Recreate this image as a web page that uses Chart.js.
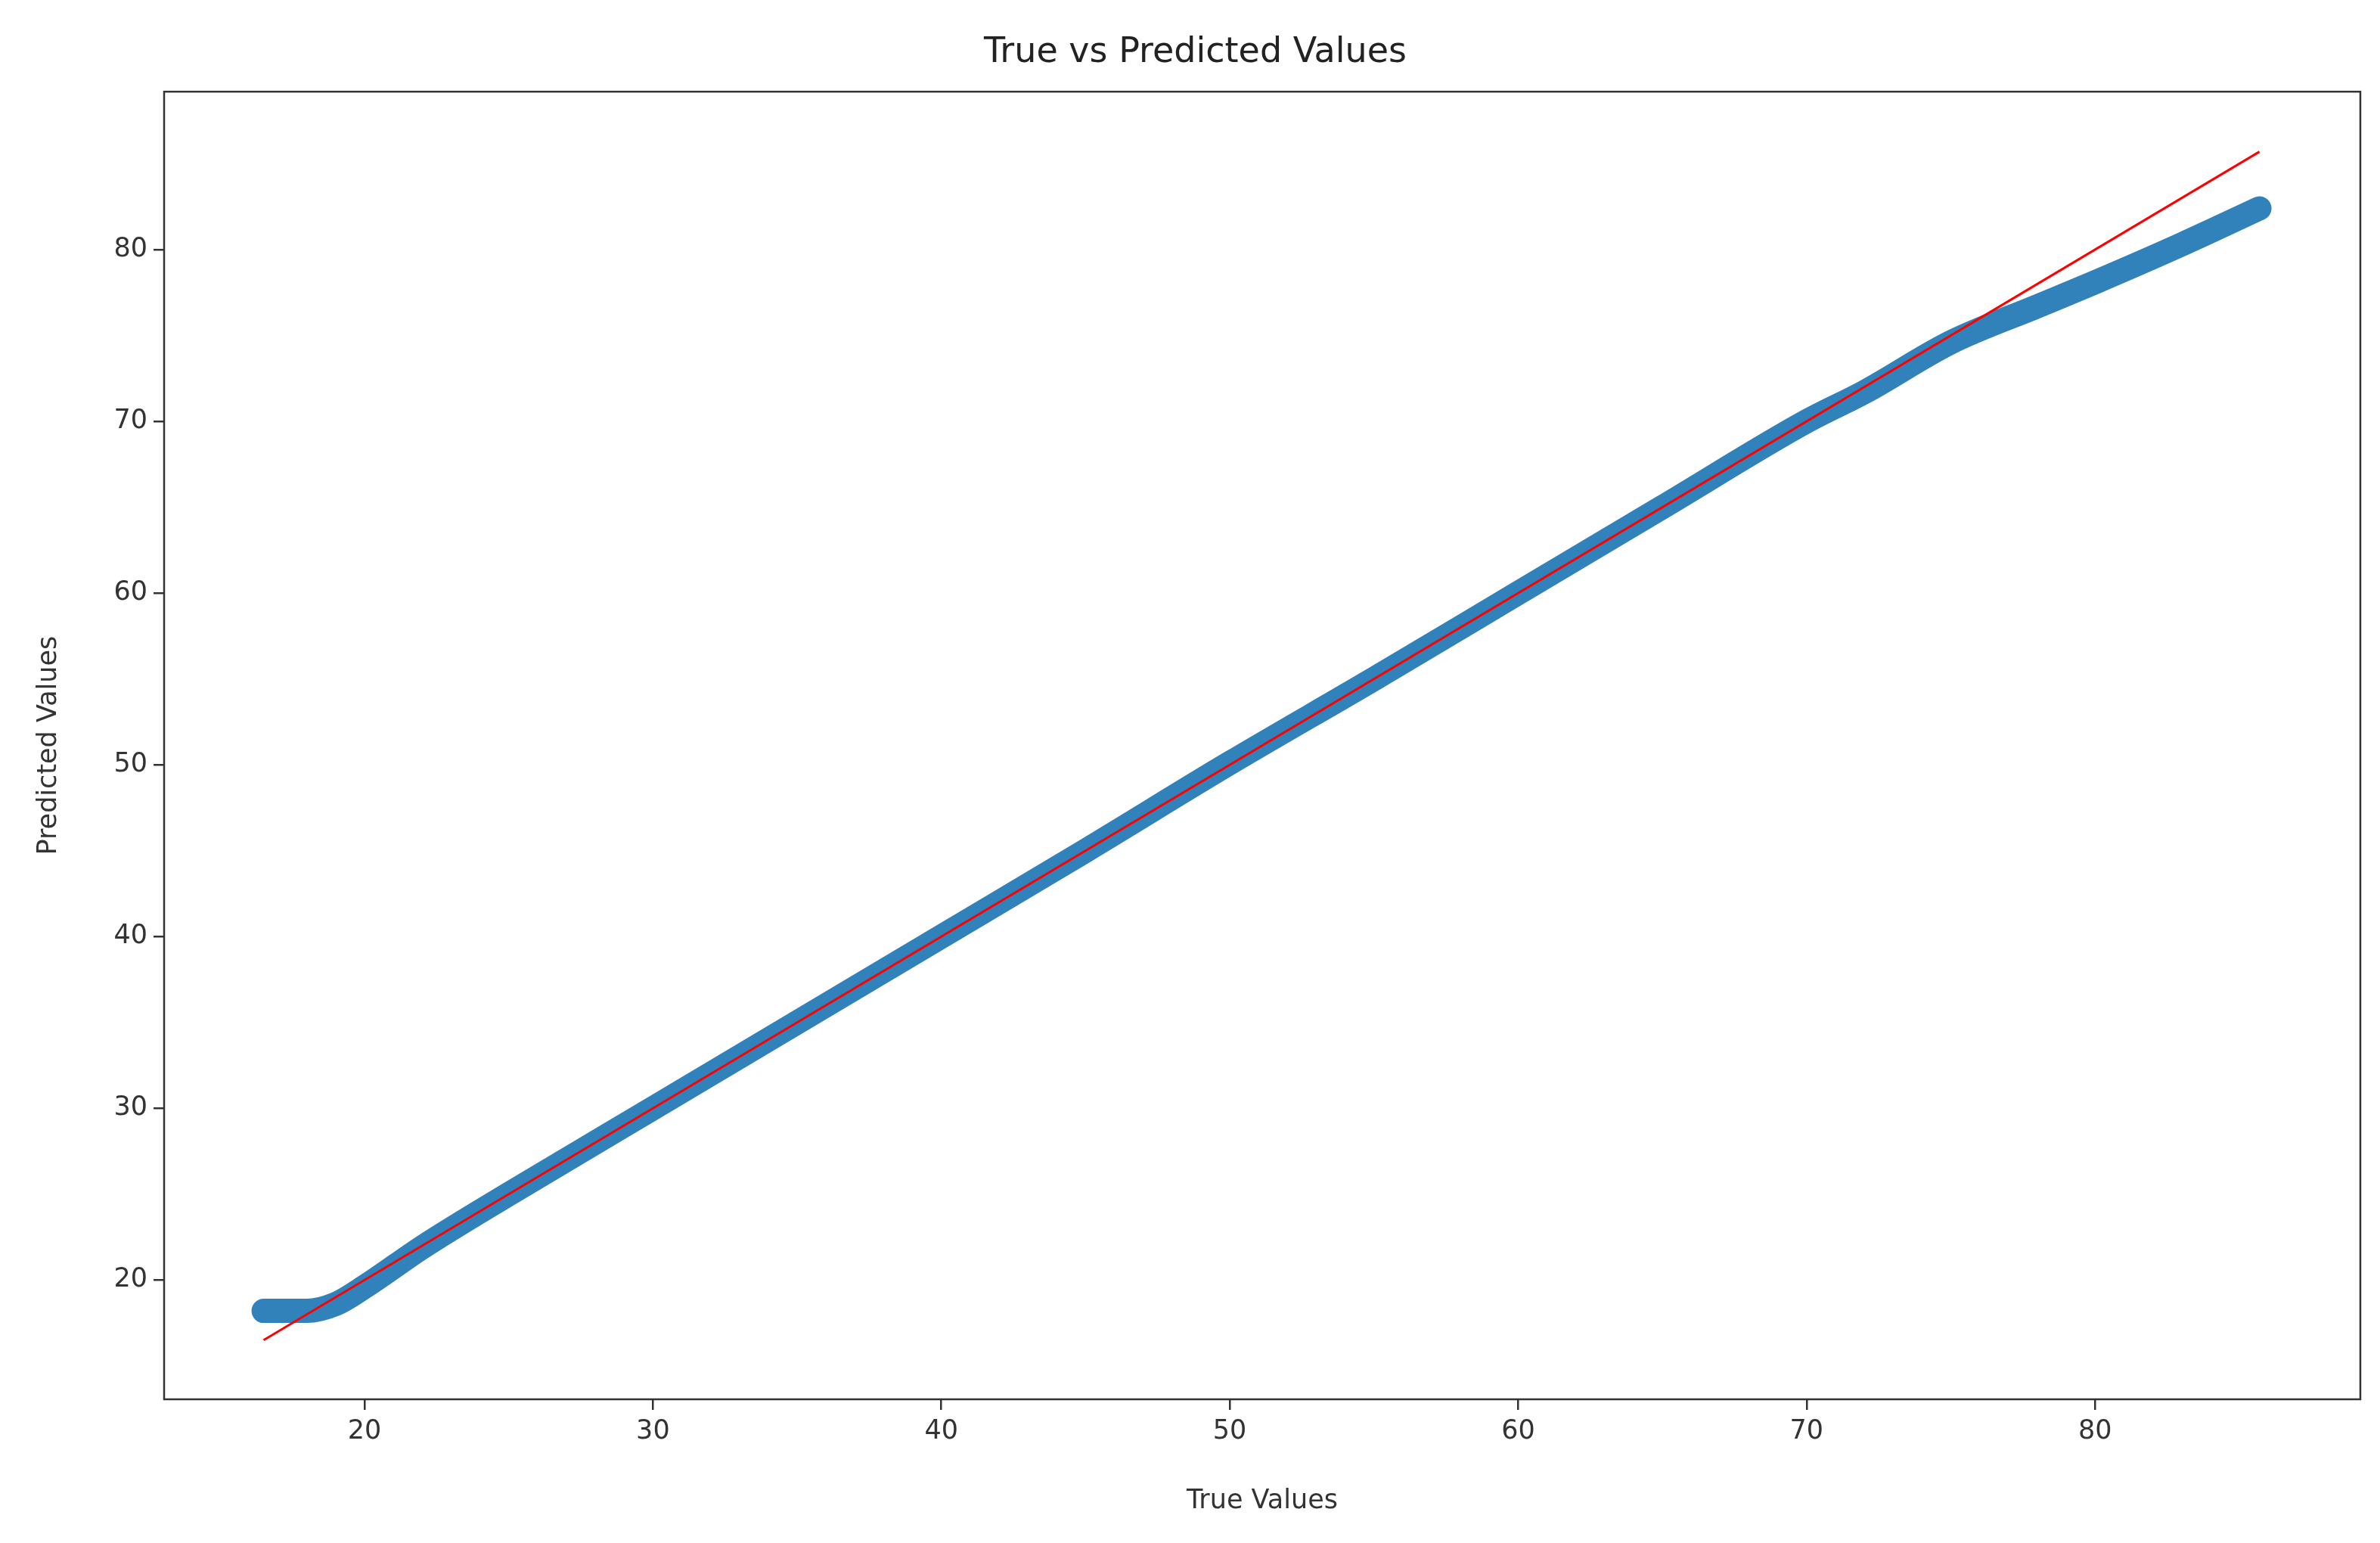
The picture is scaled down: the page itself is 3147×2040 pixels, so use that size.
<!DOCTYPE html>
<html><head><meta charset="utf-8">
<script src="https://cdn.jsdelivr.net/npm/chart.js@4"></script>
<style>html,body{margin:0;padding:0;background:#fff}#w{width:3147px;height:2040px}</style>
</head><body><div id="w"><canvas id="c"></canvas></div>
<script>
const trueVals = [16.5,17,18,19,20,22,25,30,35,40,45,50,55,60,65,70,72,75,78,80,83,85.7];
const predVals = [18.2,18.2,18.2,18.6,19.6,21.9,25,30,35,40,45,50.1,55,60,65,70,71.7,74.6,76.7,78.1,80.3,82.4];
const refLine = [16.5,85.7];
const tickVals = [20,30,40,50,60,70,80];
const font = "DejaVu Sans";
const band = trueVals.map((x,i)=>({x:x,y:predVals[i]}));
const diag = refLine.map(v=>({x:v,y:v}));
const frame = {id:'frame',afterDraw(ch){const a=ch.chartArea,c=ch.ctx;c.save();c.strokeStyle='#333';c.lineWidth=2.5;c.strokeRect(a.left,a.top,a.right-a.left,a.bottom-a.top);c.restore();}};
const axis = (title,isX)=>({
  type:'linear',min:13.05,max:89.2,
  afterBuildTicks:s=>{s.ticks=tickVals.map(v=>({value:v}));},
  afterFit:s=>{ if(isX) s.height=160; else s.width=177; },
  grid:{drawOnChartArea:false,tickLength:14,color:'#333',lineWidth:2.5},
  border:{display:false},
  ticks:{color:'#333',font:{family:font,size:35},padding:8},
  title:{display:true,text:title,color:'#333',font:{family:font,size:35},padding:{top:4,bottom:4}}
});
new Chart(document.getElementById('c'),{
  type:'scatter',
  data:{datasets:[
    {data:diag,showLine:true,borderColor:'#ff0000',borderWidth:3,pointRadius:0},
    {data:band,showLine:true,borderColor:'rgba(31,119,180,0.92)',borderWidth:32,borderCapStyle:'round',borderJoinStyle:'round',pointRadius:0,cubicInterpolationMode:'monotone'}
  ]},
  options:{responsive:true,maintainAspectRatio:false,animation:false,
    layout:{padding:{left:40,right:26,top:0,bottom:30}},
    plugins:{legend:{display:false},tooltip:{enabled:false},
      title:{display:true,text:'True vs Predicted Values',color:'#222',font:{family:font,size:46,weight:'normal'},padding:{top:42,bottom:24}}},
    scales:{x:axis('True Values',true),y:axis('Predicted Values',false)}
  },
  plugins:[frame]
});
</script></body></html>
